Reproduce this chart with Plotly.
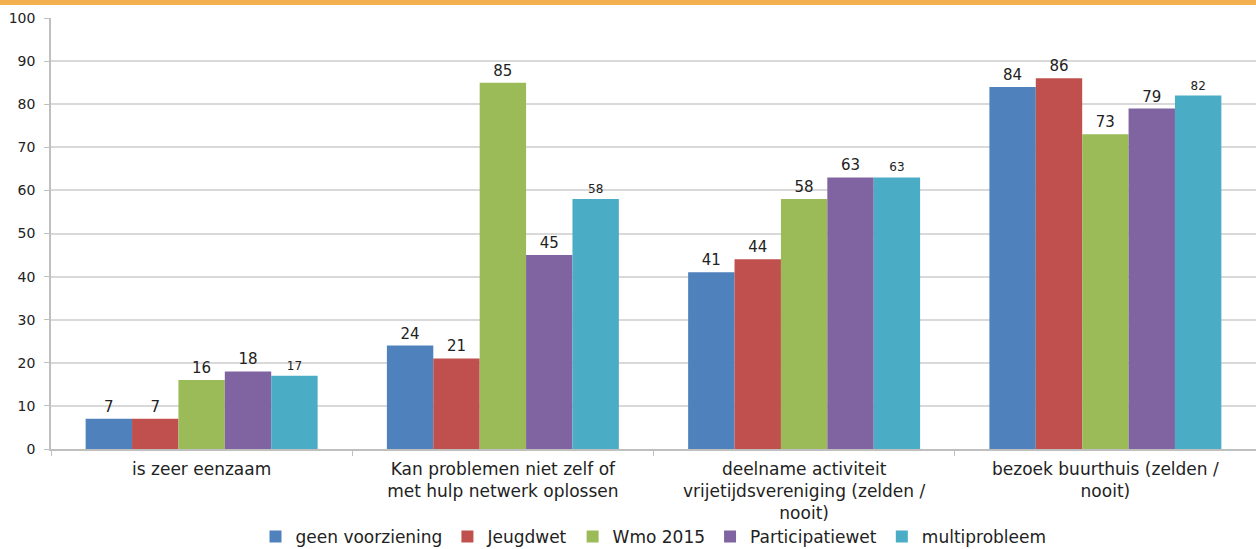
import plotly.graph_objects as go

categories = [
    "is zeer eenzaam",
    "Kan problemen niet zelf of<br>met hulp netwerk oplossen",
    "deelname activiteit<br>vrijetijdsvereniging (zelden /<br>nooit)",
    "bezoek buurthuis (zelden /<br>nooit)",
]
series_names = ["geen voorziening", "Jeugdwet", "Wmo 2015", "Participatiewet", "multiprobleem"]
geen_voorziening = [7, 24, 41, 84]
jeugdwet = [7, 21, 44, 86]
wmo_2015 = [16, 85, 58, 73]
participatiewet = [18, 45, 63, 79]
multiprobleem = [17, 58, 63, 82]
y_ticks = [0, 10, 20, 30, 40, 50, 60, 70, 80, 90, 100]

values = [geen_voorziening, jeugdwet, wmo_2015, participatiewet, multiprobleem]
colors = ["#4F81BD", "#C0504D", "#9BBB59", "#8064A2", "#4BACC6"]
label_sizes = [15, 15, 15, 15, 12]

fig = go.Figure()
for name, vals, col, ls in zip(series_names, values, colors, label_sizes):
    fig.add_trace(go.Bar(
        x=categories, y=vals, name=name,
        marker=dict(color=col, line=dict(width=0)),
        text=[str(v) for v in vals], textposition="outside",
        textfont=dict(size=ls, color="#222222", family="DejaVu Sans"),
        cliponaxis=False,
    ))

H = 549
top, bottom = 18, 100
plot_h = H - top - bottom
fig.update_layout(
    width=1256, height=549,
    barmode="group", bargap=0.23, bargroupgap=0,
    plot_bgcolor="white", paper_bgcolor="white",
    margin=dict(l=51, r=0, t=top, b=bottom, autoexpand=False),
    font=dict(family="DejaVu Sans", color="#222222"),
    legend=dict(orientation="h", x=0.5, xanchor="center", y=-(88) / plot_h, yanchor="middle",
                font=dict(size=17), itemwidth=30, traceorder="normal",
                bgcolor="rgba(0,0,0,0)", tracegroupgap=0),
    uniformtext=dict(mode=False),
    shapes=[dict(type="rect", xref="paper", yref="paper", x0=-0.1, x1=1.1,
                 y0=1 + (top - 5) / plot_h, y1=1 + (top + 2) / plot_h,
                 fillcolor="#F4B04E", line=dict(width=0), layer="above")],
)
fig.update_xaxes(
    range=[-0.5, 3.5], tickson="boundaries", ticks="outside", ticklen=5, tickcolor="#BFBFBF",
    showline=True, linecolor="#BFBFBF", linewidth=1.5, tickfont=dict(size=17, color="#222222"),
    automargin=False, ticklabelstandoff=4,
)
fig.update_yaxes(
    range=[0, 100], tickvals=y_ticks, ticks="outside", ticklen=5, tickcolor="#BFBFBF",
    showline=True, linecolor="#BFBFBF", linewidth=1.5, gridcolor="#D9D9D9", gridwidth=1.5,
    tickfont=dict(size=14, color="#222222"), zeroline=False,
    automargin=False, ticklabelstandoff=6,
)
fig.write_html("out.html", config={"displayModeBar": False},
               post_script="document.body.style.margin='0';document.body.style.padding='0';")
